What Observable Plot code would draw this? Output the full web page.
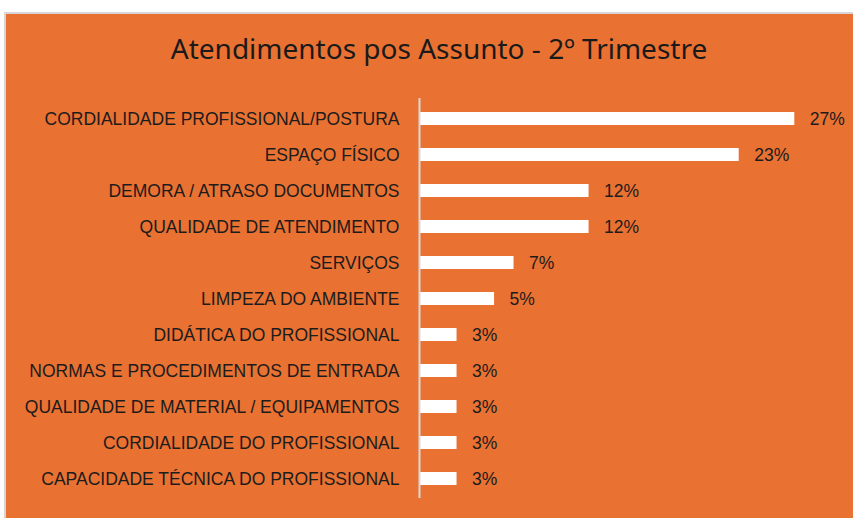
<!DOCTYPE html>
<html><head><meta charset="utf-8">
<script src="https://cdn.jsdelivr.net/npm/d3@7"></script>
<script src="https://cdn.jsdelivr.net/npm/@observablehq/plot@0.6"></script>
<style>
html,body{margin:0;padding:0;background:#fff;width:853px;height:518px;overflow:hidden;}
#frame{position:absolute;left:4px;top:12px;width:851px;height:508px;background:#E97132;border-left:2px solid #d6d6d6;border-top:2px solid #d6d6d6;box-sizing:border-box;}
#title{position:absolute;left:0;top:34px;width:878px;text-align:center;font-family:"Noto Sans";font-size:28px;line-height:28px;color:#1a1a1a;white-space:nowrap;}
#chart{position:absolute;left:0;top:0;}
</style></head><body>
<div id="frame"></div>
<div id="title">Atendimentos pos Assunto - 2º Trimestre</div>
<div id="chart"></div>
<script>
const categories = [
  "CORDIALIDADE PROFISSIONAL/POSTURA",
  "ESPAÇO FÍSICO",
  "DEMORA / ATRASO DOCUMENTOS",
  "QUALIDADE DE ATENDIMENTO",
  "SERVIÇOS",
  "LIMPEZA DO AMBIENTE",
  "DIDÁTICA DO PROFISSIONAL",
  "NORMAS E PROCEDIMENTOS DE ENTRADA",
  "QUALIDADE DE MATERIAL / EQUIPAMENTOS",
  "CORDIALIDADE DO PROFISSIONAL",
  "CAPACIDADE TÉCNICA DO PROFISSIONAL"
];
const values = [27.0, 23.0, 12.2, 12.2, 6.8, 5.4, 2.7, 2.7, 2.7, 2.7, 2.7];
const valueLabels = ["27%", "23%", "12%", "12%", "7%", "5%", "3%", "3%", "3%", "3%", "3%"];

const data = categories.map((c, i) => ({category: c, value: values[i], label: valueLabels[i]}));

const chart = Plot.plot({
  width: 853, height: 518,
  marginLeft: 419, marginRight: 17, marginTop: 98, marginBottom: 20,
  style: {background: "transparent", fontFamily: "Liberation Sans", fontSize: "17.5px", color: "#1c1c1c"},
  x: {domain: [0, 30], axis: null},
  y: {domain: categories, paddingInner: 0.65, paddingOuter: 0.325, axis: null},
  marks: [
    Plot.barX(data, {x: "value", y: "category", fill: "#ffffff"}),
    Plot.ruleX([0], {stroke: "#d9d9d9", strokeWidth: 2}),
    Plot.text(data, {x: "value", y: "category", text: "label", textAnchor: "start", dx: 15, fill: "#1c1c1c", fontSize: 17.5}),
    Plot.axisY({tickSize: 0, tickPadding: 20, fontSize: 17.5, label: null})
  ]
});
document.getElementById("chart").appendChild(chart);
</script>
</body></html>
